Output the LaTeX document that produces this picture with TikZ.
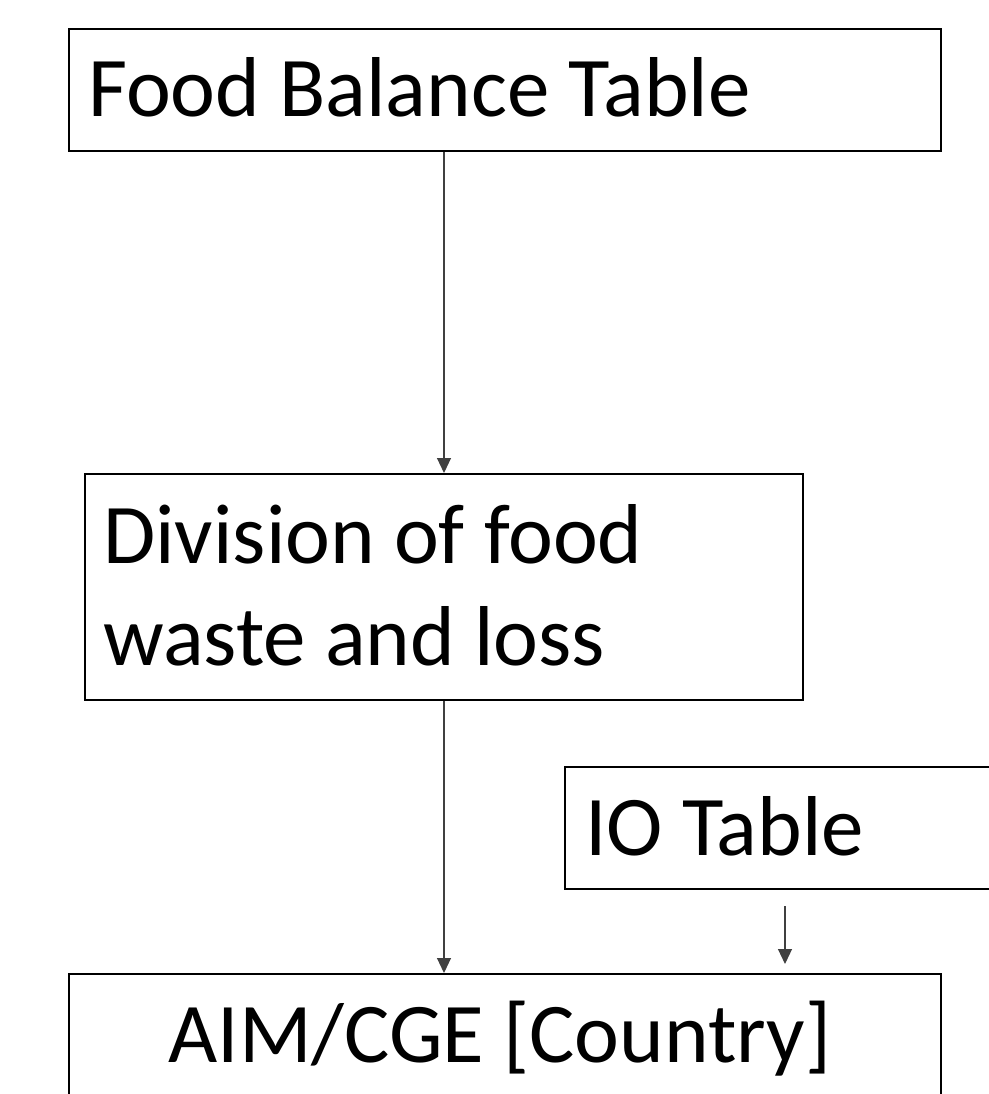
\documentclass[tikz,border=0pt]{standalone}
\usepackage{fontspec}
\setmainfont{Carlito}
\usetikzlibrary{arrows.meta}
\tikzset{
  box/.style={draw=black, line width=2pt, rectangle, inner sep=0pt, anchor=north west, fill=none},
  txt/.style={inner sep=0pt, anchor=base west, font=\fontsize{85}{102}\selectfont},
  arr/.style={draw=black!75, line width=1.1pt, -{Triangle[length=15pt,width=14pt]}}
}
\begin{document}
\begin{tikzpicture}[x=1pt,y=-1pt]
\useasboundingbox (0,0) rectangle (988,1094);
\fill[white] (0,0) rectangle (988,1094);
% boxes
\node[box, minimum width=872pt, minimum height=122pt] (fbt) at (68,28) {};
\node[box, minimum width=718pt, minimum height=226pt] (div) at (84,473) {};
\node[box, minimum width=460pt, minimum height=122pt] (io) at (564,766) {};
\node[box, minimum width=872pt, minimum height=160pt] (aim) at (68,973) {};
% texts
\node[txt] (fbtt) at (88,117) {Food Balance Table};
\node[txt] (divt1) at (103,563) {Division of food};
\node[txt] (divt2) at (103,665) {waste and loss};
\node[txt] (iot) at (585,855) {IO Table};
\node[txt, anchor=base] (aimt) at (500,1062) {AIM/CGE [Country]};
% connectors
\coordinate (ioa) at (785,906);
\coordinate (iob) at (785,964);
\draw[arr] (div.north |- fbt.south) -- (div.north);
\draw[arr] (div.south) -- (div.south |- aim.north);
\draw[arr] (ioa) -- (iob);
\end{tikzpicture}
\end{document}
